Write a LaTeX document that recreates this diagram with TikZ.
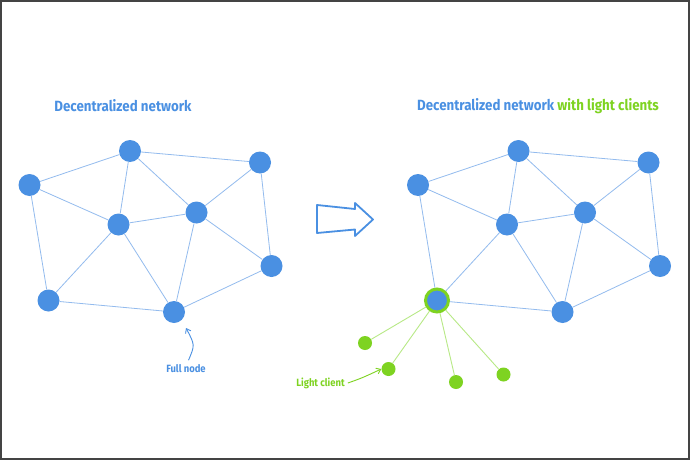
\documentclass[tikz,border=0pt]{standalone}
\usepackage{fontspec}
\setmainfont{Fira Sans}[FakeStretch=0.9]
\usetikzlibrary{arrows.meta}

\definecolor{nodeblue}{HTML}{4A90E2}
\definecolor{edgeblue}{HTML}{93BBEE}
\definecolor{clientgreen}{HTML}{7ED321}
\definecolor{edgegreen}{HTML}{B8E986}
\definecolor{framegray}{HTML}{444444}

\begin{document}
\begin{tikzpicture}[x=1pt, y=-1pt,
    full/.style={circle, fill=nodeblue, minimum size=22pt, inner sep=0pt},
    hub/.style={circle, fill=nodeblue, draw=clientgreen, line width=3pt, minimum size=23pt, inner sep=0pt},
    client/.style={circle, fill=clientgreen, minimum size=14pt, inner sep=0pt},
    link/.style={edgeblue, line width=0.8pt},
    clientlink/.style={edgegreen, line width=0.9pt},
    title/.style={font=\fontsize{14.8}{16}\selectfont\bfseries, inner sep=0pt},
    note/.style={font=\fontsize{10.5}{12}\selectfont\bfseries, inner sep=0pt}]
    \pgfmathsetmacro{\shift}{388.5}

    % frame
    \fill[white] (0, 0) rectangle (690, 460);
    \draw[framegray, line width=2pt] (1, 1) rectangle (689, 459);

    % plain network
    \node[title, text=nodeblue] (t1) at (123, 106) {Decentralized network};

    \node[full] (w1) at (29.5, 185) {};
    \node[full] (n1) at (130, 151) {};
    \node[full] (ne1) at (260, 162.5) {};
    \node[full] (c1) at (118.5, 224.5) {};
    \node[full] (ce1) at (196.5, 212.5) {};
    \node[full] (e1) at (271.5, 266) {};
    \node[full] (sw1) at (48.5, 300.5) {};
    \node[full] (s1) at (174, 312) {};

    \foreach \a/\b in {w/n, w/c, w/sw, n/ne, n/c, n/ce, ne/ce, ne/e, c/ce, c/sw, c/s, ce/s, ce/e, sw/s, s/e}
        \draw[link] (\a1) -- (\b1);

    \node[note, text=nodeblue] (fn) at (186, 368.5) {Full node};
    \coordinate (fntip) at (186, 328);
    \draw[nodeblue, line width=0.9pt, -{Straight Barb[length=4pt, width=6pt]}]
        (fn.north) ++(2.5, -4) coordinate (fnstart) .. controls (195, 345) .. (fntip);

    % big arrow
    \draw[nodeblue, line width=1.8pt, line join=round, fill=white]
        (317, 205) -- (355, 209) -- (355, 203) -- (373, 219.5)
        -- (355, 236) -- (355, 229.5) -- (317, 233) -- cycle;

    % network with light clients
    \node[title] (t2) at (538, 106) {\textcolor{nodeblue}{Decentralized network} \textcolor{clientgreen}{with light clients}};

    \node[full] (w2) at (29.5+\shift, 185) {};
    \node[full] (n2) at (130+\shift, 151) {};
    \node[full] (ne2) at (260+\shift, 162.5) {};
    \node[full] (c2) at (118.5+\shift, 224.5) {};
    \node[full] (ce2) at (196.5+\shift, 212.5) {};
    \node[full] (e2) at (271.5+\shift, 266) {};
    \node[hub] (sw2) at (48.5+\shift, 300.5) {};
    \node[full] (s2) at (174+\shift, 312) {};

    \foreach \a/\b in {w/n, w/c, w/sw, n/ne, n/c, n/ce, ne/ce, ne/e, c/ce, c/sw, c/s, ce/s, ce/e, sw/s, s/e}
        \draw[link] (\a2) -- (\b2);

    \node[client] (l1) at (365, 343) {};
    \node[client] (l2) at (388.5, 369) {};
    \node[client] (l3) at (456, 382) {};
    \node[client] (l4) at (503.5, 374.5) {};

    \foreach \l in {l1, l2, l3, l4}
        \draw[clientlink] (sw2) -- (\l);

    \node[note, text=clientgreen] (lc) at (320.5, 383) {Light client};
    \draw[clientgreen, line width=0.9pt, -{Straight Barb[length=4pt, width=6pt]}]
        (lc.east) ++(3, 0) coordinate (lcstart) .. controls (362, 378) .. (l2.west);
\end{tikzpicture}
\end{document}
